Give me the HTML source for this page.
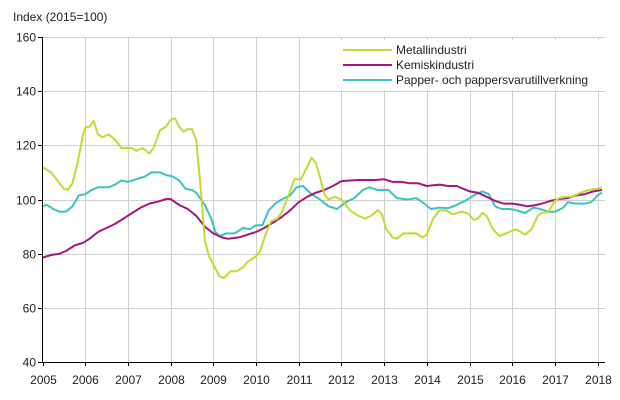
<!DOCTYPE html>
<html><head><meta charset="utf-8"><style>
body{margin:0;background:#fff}
svg{display:block;font-family:"Liberation Sans",Arial,sans-serif;font-size:12px;fill:#222}
</style></head><body>
<svg id="s" width="620" height="400" xmlns="http://www.w3.org/2000/svg">
<text x="13" y="21">Index (2015=100)</text>
<g id="grid" stroke="#cfcfcf" stroke-width="1"></g>
<g id="lab"></g>
<rect x="338" y="40" width="262" height="50" fill="#fff"/>
<line x1="343" y1="50" x2="392" y2="50" stroke="#c6d832" stroke-width="2"/>
<line x1="343" y1="65" x2="392" y2="65" stroke="#a5167e" stroke-width="2"/>
<line x1="343" y1="80" x2="392" y2="80" stroke="#3dc4bf" stroke-width="2"/>
<text x="396" y="54">Metallindustri</text>
<text x="396" y="69">Kemiskindustri</text>
<text x="396" y="84">Papper- och pappersvarutillverkning</text>
<g id="series" fill="none" stroke-width="2" stroke-linejoin="round"></g>
<line x1="42.5" y1="37" x2="42.5" y2="362" stroke="#000"/>
<line x1="42" y1="362.5" x2="605" y2="362.5" stroke="#000"/>
</svg>
<script>
var X0=42.5,PY=42.7,Y0=37,PU=325/120;
function X(t){return X0+(t-2005)*PY}
function Y(v){return Y0+(160-v)*PU}
var ns="http://www.w3.org/2000/svg",g=document.getElementById("grid"),lab=document.getElementById("lab");
function el(p,n,a,t){var e=document.createElementNS(ns,n);for(var k in a)e.setAttribute(k,a[k]);if(t)e.textContent=t;p.appendChild(e);return e}
for(var v=40;v<=160;v+=20){var y=Math.round(Y(v))+0.5;if(v>40)el(g,"line",{x1:42,x2:605,y1:y,y2:y});el(g,"line",{x1:38,x2:42,y1:y,y2:y,stroke:"#000"});el(lab,"text",{x:36,y:y+4,"text-anchor":"end"},v)}
for(var yr=2005;yr<=2018;yr++){var x=Math.round(X(yr))+0.5;if(yr>2005)el(g,"line",{x1:x,x2:x,y1:37,y2:362});el(g,"line",{x1:x,x2:x,y1:362,y2:366,stroke:"#000"});el(lab,"text",{x:x,y:384,"text-anchor":"middle"},yr)}
var M=[2005.0,112,2005.2,110,2005.4,106,2005.5,104,2005.6,103.5,2005.7,106,2005.8,112,2005.95,124,2006.0,126.5,2006.1,127,2006.2,129,2006.3,124,2006.4,123,2006.55,124,2006.7,122,2006.85,119,2007.0,119,2007.1,119,2007.2,118,2007.35,119,2007.5,117,2007.6,119,2007.75,125.5,2007.9,127,2008.0,129.5,2008.1,130,2008.2,127,2008.3,125,2008.4,126,2008.5,126,2008.6,122,2008.7,105,2008.8,85,2008.9,79,2009.0,76,2009.15,71.5,2009.25,71,2009.4,73.5,2009.55,73.5,2009.7,75,2009.8,77,2010.0,79,2010.1,81,2010.2,86,2010.35,92,2010.5,93,2010.6,95,2010.75,101,2010.9,107.5,2011.05,107.5,2011.2,112,2011.3,115.5,2011.4,113.5,2011.5,108,2011.6,102,2011.7,100,2011.85,101,2012.0,100,2012.2,96,2012.4,94,2012.55,93,2012.7,94,2012.85,96,2012.95,94.5,2013.05,89,2013.2,86,2013.3,85.5,2013.45,87.5,2013.6,87.5,2013.75,87.5,2013.9,86,2014.0,87,2014.15,93,2014.3,96,2014.45,96,2014.6,94.5,2014.8,95.5,2014.95,95,2015.1,92.5,2015.2,93,2015.3,95,2015.4,94,2015.55,89,2015.7,86.5,2015.85,87.5,2016.0,88.5,2016.1,89,2016.2,88,2016.3,87,2016.45,89,2016.6,94,2016.7,95,2016.85,95.5,2017.0,99.5,2017.1,100.5,2017.25,101,2017.4,101,2017.6,102.5,2017.8,103.5,2018.0,104,2018.1,104.5];
var K=[2005.0,78.5,2005.2,79.5,2005.4,80,2005.55,81,2005.75,83,2005.95,84,2006.1,85.5,2006.3,88,2006.5,89.5,2006.7,91,2006.9,93,2007.1,95,2007.3,97,2007.5,98.5,2007.7,99.2,2007.9,100.2,2008.0,100.2,2008.2,98,2008.4,96.5,2008.6,94,2008.8,90,2009.0,87.5,2009.2,86,2009.35,85.5,2009.6,86,2009.8,87,2010.0,88,2010.2,89.5,2010.4,91.5,2010.6,93.5,2010.8,96,2011.0,99,2011.2,101,2011.4,102.5,2011.6,103.5,2011.8,105,2012.0,106.8,2012.2,107,2012.4,107.2,2012.6,107.2,2012.8,107.2,2013.0,107.5,2013.2,106.5,2013.4,106.5,2013.6,106,2013.8,106,2014.0,105,2014.3,105.5,2014.5,105,2014.7,105,2015.0,103,2015.2,102.5,2015.4,101,2015.6,99.5,2015.8,98.5,2016.0,98.5,2016.2,98,2016.35,97.5,2016.5,97.8,2016.7,98.5,2016.9,99.5,2017.1,100.2,2017.3,100.5,2017.5,101.5,2017.7,102,2017.9,103,2018.1,103.5];
var P=[2005.0,97.5,2005.1,98,2005.25,96.5,2005.4,95.5,2005.55,95.5,2005.7,97.5,2005.85,101.5,2006.0,102,2006.15,103.5,2006.3,104.5,2006.55,104.5,2006.7,105.5,2006.85,107,2007.0,106.5,2007.2,107.5,2007.4,108.5,2007.55,110,2007.75,110,2007.9,109,2008.05,108.5,2008.2,107,2008.35,104,2008.5,103.5,2008.6,102.5,2008.8,98,2008.95,93,2009.05,88,2009.15,86.5,2009.3,87.5,2009.5,87.5,2009.7,89.5,2009.85,89,2010.0,90.5,2010.15,90.5,2010.3,96,2010.45,98.5,2010.6,100,2010.8,101.5,2010.95,104.5,2011.1,105,2011.3,102,2011.5,100,2011.7,97.5,2011.9,96.5,2012.1,99,2012.3,100.5,2012.5,103.5,2012.65,104.5,2012.85,103.5,2013.1,103.5,2013.3,100.5,2013.55,100,2013.75,100.5,2013.9,99,2014.1,96.5,2014.3,97,2014.5,96.8,2014.7,98,2014.9,99.5,2015.1,101.5,2015.3,103,2015.45,102,2015.6,97.5,2015.75,96.5,2015.95,96.5,2016.1,96,2016.3,95,2016.5,97,2016.65,96.5,2016.85,95.5,2017.0,95.5,2017.2,97,2017.3,99,2017.5,98.5,2017.7,98.5,2017.85,99,2018.0,101.5,2018.1,102.5];
var sg=document.getElementById("series");
function draw(d,c){var p=[];for(var i=0;i<d.length;i+=2)p.push(X(d[i]).toFixed(1)+","+Y(d[i+1]).toFixed(1));el(sg,"polyline",{points:p.join(" "),stroke:c})}
draw(P,"#3dc4bf");draw(K,"#a5167e");draw(M,"#c6d832");
</script>
</body></html>
